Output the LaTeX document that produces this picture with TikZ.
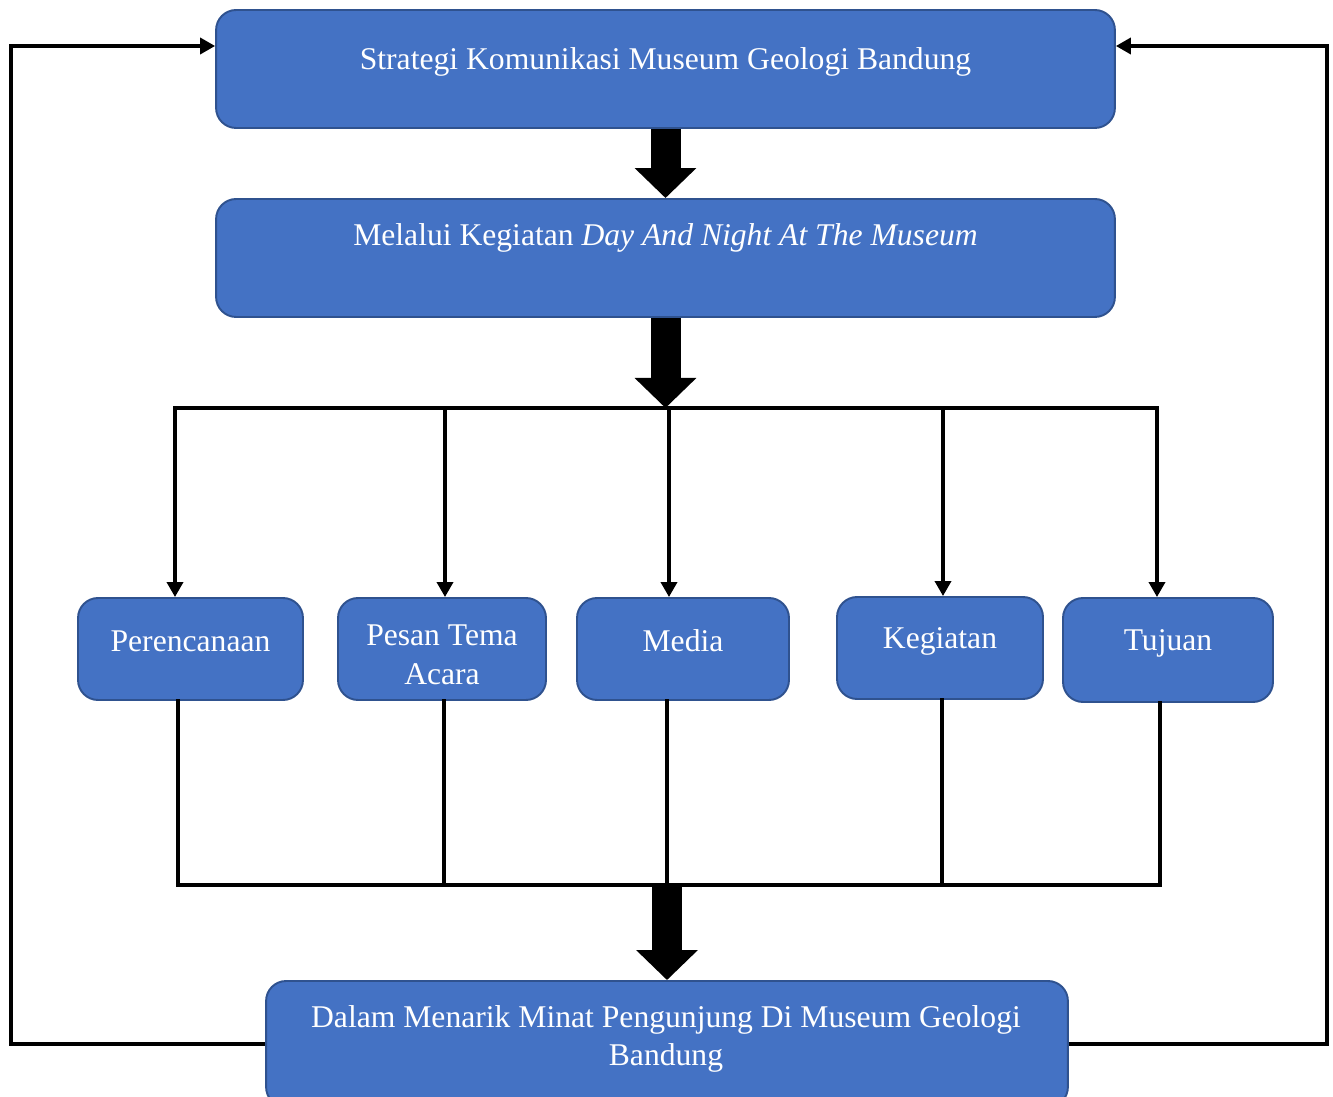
\documentclass[tikz,border=0pt]{standalone}
\usepackage{fontspec}
\setmainfont{Liberation Serif}
\usetikzlibrary{calc}
\usetikzlibrary{arrows.meta}
\usetikzlibrary{positioning}
\definecolor{boxblue}{HTML}{4472C4}
\definecolor{boxline}{HTML}{2F528F}
\tikzset{
 box/.style={draw=boxline, fill=boxblue, line width=1.1pt, rounded corners=0.4cm},
 txt/.style={text=white, font=\fontsize{18}{22}\selectfont, align=center},
 thin/.style={line width=2pt, line cap=rect},
 arr/.style={line width=2pt, -{Triangle[width=0.32cm,length=0.3cm]}},
 fat/.style={line width=0.6cm, -{Triangle[width=1.2cm,length=0.6cm]}}
}

\begin{document}
\begin{tikzpicture}[x=0.02cm, y=-0.02cm]
\useasboundingbox (0,0) rectangle (1333,1097);
\node[box, minimum width=17.98cm, minimum height=2.36cm] (strat) at (665.5,69) {};
\node[txt] (strat-t) at (665.5,62) {Strategi Komunikasi Museum Geologi Bandung};
\node[box, minimum width=17.98cm, minimum height=2.36cm] (melalui) at (665.5,258) {};
\node[txt] (melalui-t) at (665.5,238) {Melalui Kegiatan \textit{Day And Night At The Museum}};
\node[box, minimum width=16.04cm, minimum height=2.52cm] (dalam) at (667,1044) {};
\node[txt] (dalam-t) at (666,1039) {Dalam Menarik Minat Pengunjung Di Museum Geologi\\Bandung};
\foreach \n/\x/\y/\w/\h/\t/\ty in {per/190.5/649/4.5/2.04/Perencanaan/641,
 pes/442/649/4.16/2.04/{Pesan Tema\\Acara}/655, med/683/649/4.24/2.04/Media/641,
 keg/940/648/4.12/2.04/Kegiatan/641, tuj/1168/650/4.2/2.08/Tujuan/643} {
 \node[box, minimum width=\w cm, minimum height=\h cm] (\n) at (\x,\y) {};
 \node[txt] (\n-t) at (\x,\ty) {\t};
}
\foreach \n/\x in {per/175,pes/445,med/669,keg/943,tuj/1157} {
 \coordinate (a-\n) at (\x,408);
 \draw[arr] (a-\n) -- (a-\n |- \n.north);
}
\draw[thin] (a-per) -- (a-tuj);
\foreach \n/\x in {per/178,pes/444,med/667,keg/942,tuj/1160} {
 \coordinate (b-\n) at (\x,885);
 \draw[thin] (b-\n |- \n.south) -- (b-\n);
}
\draw[thin] (b-per) -- (b-tuj);
\coordinate (hub1) at (melalui.south |- a-per);
\coordinate (hub2) at (dalam.north |- b-per);
\draw[fat] (strat) -- (melalui);
\draw[fat] (melalui) -- (hub1);
\draw[fat] (hub2) -- (dalam);
\coordinate (lp) at (11,46);
\coordinate (rp) at (1327,46);
\draw[arr] (dalam.west) -| (lp) -- (lp -| strat.west);
\draw[arr] (dalam.east) -| (rp) -- (rp -| strat.east);
\end{tikzpicture}
\end{document}
